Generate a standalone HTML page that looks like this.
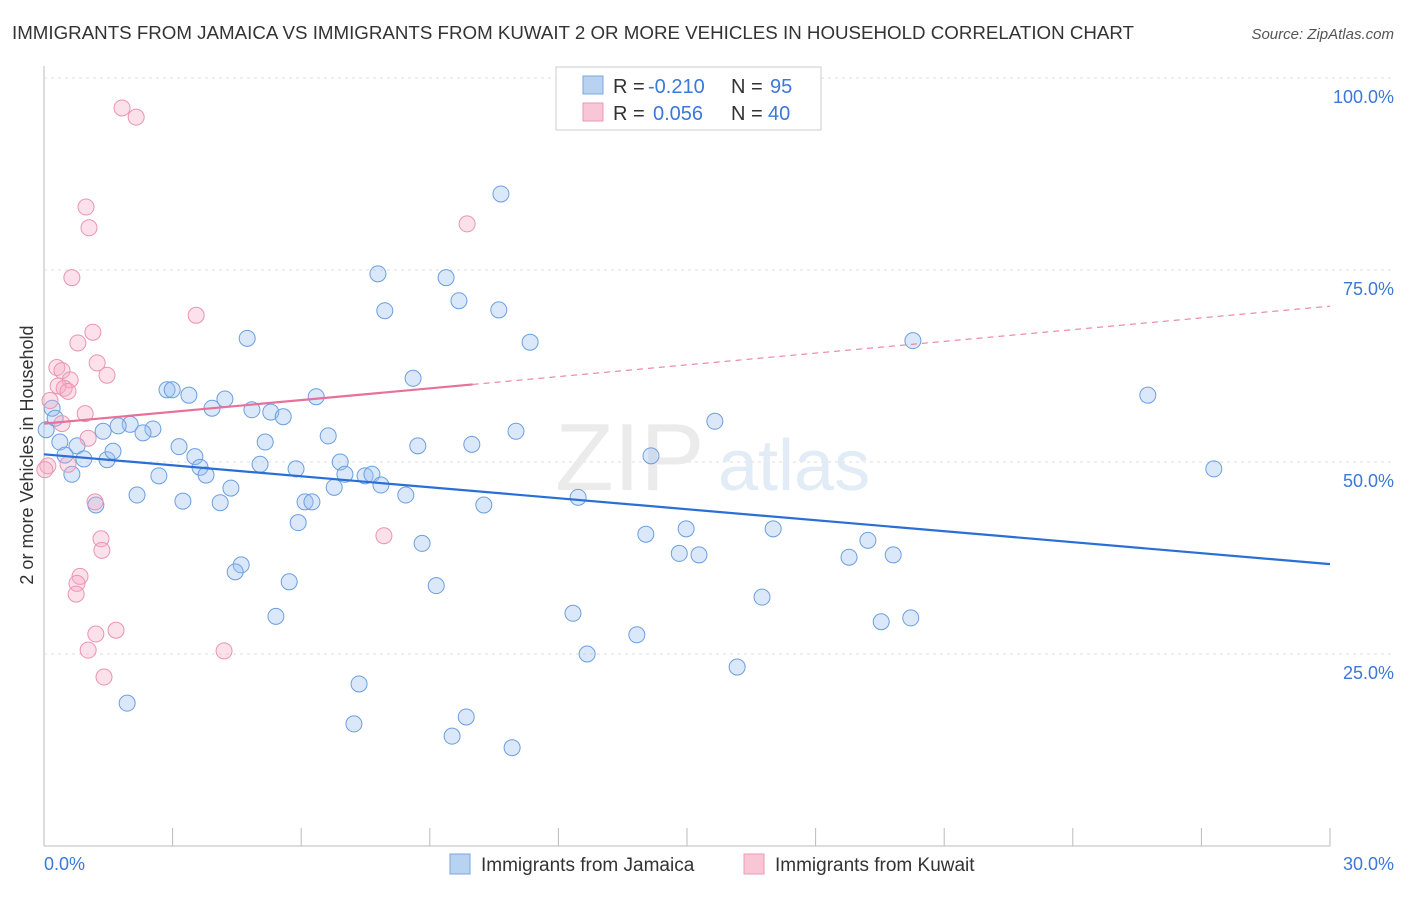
<!DOCTYPE html>
<html><head><meta charset="utf-8"><style>
body{margin:0;background:#fff;font-family:"Liberation Sans",sans-serif}
svg text{font-family:"Liberation Sans",sans-serif}
</style></head><body>
<svg id="chart" width="1406" height="892">
<text x="12" y="39" font-size="18" fill="#333" textLength="1122" lengthAdjust="spacingAndGlyphs">IMMIGRANTS FROM JAMAICA VS IMMIGRANTS FROM KUWAIT 2 OR MORE VEHICLES IN HOUSEHOLD CORRELATION CHART</text>
<text x="1394" y="39" font-size="15" fill="#555" text-anchor="end" font-style="italic">Source: ZipAtlas.com</text>
<g id="grid"></g>
<text x="555" y="490" font-size="96" fill="#ebebeb" font-family="Liberation Serif">ZIP</text>
<text x="718" y="490" font-size="72" fill="#e2ecf6">atlas</text>
<g id="pts"></g>
<g id="lines"></g>
<text x="33" y="455" font-size="18" fill="#333" transform="rotate(-90 33 455)" text-anchor="middle">2 or more Vehicles in Household</text>
<text x="44" y="870" font-size="18" fill="#3b78d8">0.0%</text>
<text x="1394" y="870" font-size="18" fill="#3b78d8" text-anchor="end">30.0%</text>
<g>
<rect x="556" y="67" width="265" height="63" fill="#fff" stroke="#ccc"/>
<rect x="583" y="76" width="20" height="18" fill="#b8d2f2" stroke="#7ba6e0"/>
<rect x="583" y="103" width="20" height="18" fill="#f9c6d6" stroke="#eb9ab4"/>
<text x="613" y="93" font-size="20" fill="#333">R =</text>
<text x="648" y="93" font-size="20" fill="#3b78d8">-0.210</text>
<text x="731" y="93" font-size="20" fill="#333">N =</text>
<text x="770" y="93" font-size="20" fill="#3b78d8">95</text>
<text x="613" y="120" font-size="20" fill="#333">R =</text>
<text x="653" y="120" font-size="20" fill="#3b78d8">0.056</text>
<text x="731" y="120" font-size="20" fill="#333">N =</text>
<text x="768" y="120" font-size="20" fill="#3b78d8">40</text>
</g>
<g>
<rect x="450" y="854" width="20" height="20" fill="#b8d2f2" stroke="#7ba6e0"/>
<text x="481" y="871" font-size="19" fill="#333">Immigrants from Jamaica</text>
<rect x="744" y="854" width="20" height="20" fill="#f9c6d6" stroke="#eb9ab4"/>
<text x="775" y="871" font-size="19" fill="#333">Immigrants from Kuwait</text>
</g>
</svg>
<script>
const yTicks=[25,50,75,100];
const yTickLabels=["25.0%","50.0%","75.0%","100.0%"];
const xTicks=[0,3,6,9,12,15,18,21,24,27,30];
const jamaicaX=[10.66,7.79,9.38,9.68,7.95,10.61,11.34,20.27,4.74,8.61,25.75,2.87,2.99,3.38,4.22,3.92,4.85,5.29,5.58,6.35,2.01,1.73,2.54,2.31,1.38,0.37,0.77,0.49,0.93,1.47,1.61,0.65,3.15,3.52,3.64,3.78,2.68,5.16,5.04,5.88,6.63,6.91,7.02,7.49,7.65,7.86,6.77,8.44,8.72,9.98,11.01,14.16,15.65,27.29,2.17,3.24,1.21,4.11,4.36,6.09,6.25,5.93,10.26,12.46,14.04,14.98,17.01,14.82,15.28,18.78,19.22,19.81,8.82,4.6,4.46,5.72,9.15,12.34,5.41,16.75,13.83,19.53,20.22,12.67,16.17,7.35,1.94,7.23,9.85,9.52,10.92,0.19,0.26,0.05];
const jamaicaY=[84.9,74.5,74.0,71.0,69.7,69.8,65.6,65.8,66.1,60.9,58.7,59.4,59.4,58.7,58.2,57.0,56.8,56.5,55.9,58.5,54.9,54.7,54.3,53.8,54.0,52.6,52.1,50.9,50.4,50.3,51.4,48.4,52.0,50.7,49.3,48.3,48.2,52.6,49.7,49.1,53.4,50.0,48.4,48.2,48.4,47.0,46.7,45.7,52.1,52.3,54.0,50.8,55.3,49.1,45.7,44.9,44.4,44.7,46.6,44.8,44.8,42.1,44.4,45.4,40.6,41.3,41.3,38.1,37.9,37.6,39.8,37.9,39.4,36.6,35.7,34.4,33.9,30.3,29.9,32.4,27.5,29.2,29.7,25.0,23.3,21.1,18.6,15.9,16.8,14.3,12.8,57.0,55.7,54.2];
const kuwaitX=[1.82,2.15,0.98,1.05,0.65,9.87,3.55,1.14,0.79,1.24,1.47,0.30,0.42,0.61,0.33,0.47,0.56,0.14,0.96,0.42,1.03,0.56,0.09,1.19,1.33,1.35,0.84,0.77,0.75,1.68,1.21,1.03,1.4,4.2,7.93,0.02];
const kuwaitY=[96.1,94.9,83.2,80.5,74.0,81.0,69.1,66.9,65.5,62.9,61.3,62.3,61.9,60.7,59.9,59.6,59.2,58.0,56.3,55.0,53.1,49.7,49.5,44.8,40.0,38.5,35.1,34.2,32.8,28.1,27.6,25.5,22.0,25.4,40.4,49.0];
const jamaicaTrend=[51.0,36.7];
const kuwaitTrend=[55.0,70.3];
const kuwaitSolidEnd=10;

const X0=44,X1=1330,Y0=846,PER=7.68;
const sx=v=>X0+(v/30)*(X1-X0);
const sy=v=>Y0-v*PER;
const NS='http://www.w3.org/2000/svg';
function mk(tag,attrs,parent){const e=document.createElementNS(NS,tag);for(const k in attrs)e.setAttribute(k,attrs[k]);parent.appendChild(e);return e;}
const grid=document.getElementById('grid');
const g0=mk('line',{x1:X0,x2:X0,y1:66,y2:Y0,stroke:'#bbb'},grid);


const ga=mk('line',{x1:X0,x2:X1,y1:Y0,y2:Y0,stroke:'#bbb'},grid);


yTicks.forEach((t,i)=>{
 const l=mk('line',{x1:X0,x2:1394,y1:sy(t),y2:sy(t),stroke:'#ddd','stroke-dasharray':'3,4'},grid);
 
 
 const tx=mk('text',{x:1394,y:sy(t)+25,'font-size':18,fill:'#3b78d8','text-anchor':'end'},grid);
 tx.textContent=yTickLabels[i];
 
 
});
xTicks.forEach(t=>{
 const l=mk('line',{x1:sx(t),x2:sx(t),y1:Y0-18,y2:Y0,stroke:'#bbb'},grid);
 
 
});
const pts=document.getElementById('pts');
jamaicaX.forEach((x,i)=>{
 const c=mk('circle',{cx:sx(x),cy:sy(jamaicaY[i]),r:8,fill:'rgba(150,190,240,0.35)',stroke:'#6b9fe0','stroke-width':1},pts);
 
 
});
kuwaitX.forEach((x,i)=>{
 const c=mk('circle',{cx:sx(x),cy:sy(kuwaitY[i]),r:8,fill:'rgba(245,170,195,0.35)',stroke:'#eb94b2','stroke-width':1},pts);
 
 
});
const lines=document.getElementById('lines');
const jl=mk('line',{x1:sx(0),y1:sy(jamaicaTrend[0]),x2:sx(30),y2:sy(jamaicaTrend[1]),stroke:'#2a6fd6','stroke-width':2.2},lines);


const kAt=x=>kuwaitTrend[0]+(kuwaitTrend[1]-kuwaitTrend[0])*x/30;
const kl=mk('line',{x1:sx(0),y1:sy(kAt(0)),x2:sx(kuwaitSolidEnd),y2:sy(kAt(kuwaitSolidEnd)),stroke:'#e8709a','stroke-width':2.2},lines);


const kd=mk('line',{x1:sx(kuwaitSolidEnd),y1:sy(kAt(kuwaitSolidEnd)),x2:sx(30),y2:sy(kAt(30)),stroke:'#e8709a','stroke-width':1,'stroke-dasharray':'6,5'},lines);


</script>
</body></html>
